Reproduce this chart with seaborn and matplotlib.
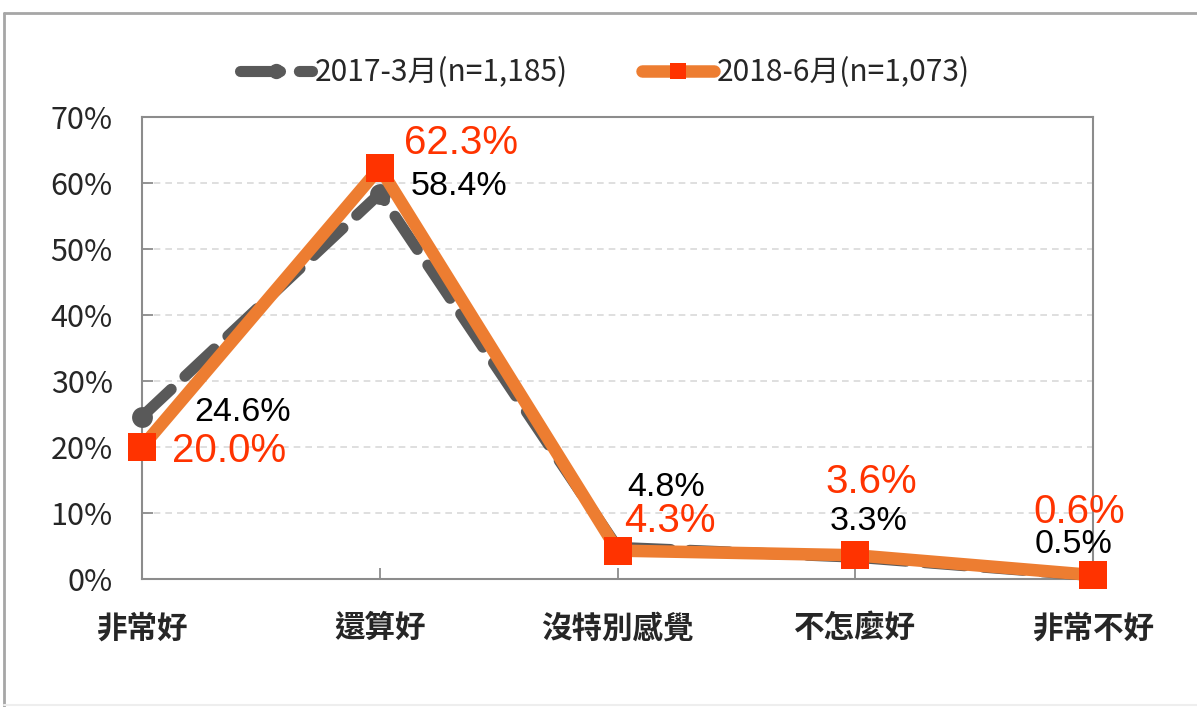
import matplotlib
matplotlib.use("Agg")
import matplotlib.pyplot as plt
import seaborn as sns
import pandas as pd
from matplotlib.lines import Line2D

categories = ["非常好", "還算好", "沒特別感覺", "不怎麼好", "非常不好"]
series_2017 = [24.6, 58.4, 4.8, 3.3, 0.5]
series_2018 = [20.0, 62.3, 4.3, 3.6, 0.6]
label_2017 = "2017-3月(n=1,185)"
label_2018 = "2018-6月(n=1,073)"
yticks = [0, 10, 20, 30, 40, 50, 60, 70]

sns.set_theme(style="white")
plt.rcParams["font.family"] = ["Noto Sans CJK TC", "DejaVu Sans"]

GRAY = "#595959"
ORANGE = "#ED7D31"
RED = "#FF3300"

fig = plt.figure(figsize=(11.97, 7.07), dpi=100)
ax = fig.add_axes([142 / 1197, 1 - 579 / 707, (1093 - 142) / 1197, (579 - 117) / 707])

df17 = pd.DataFrame({"cat": categories, "val": series_2017})
df18 = pd.DataFrame({"cat": categories, "val": series_2018})

sns.lineplot(data=df17, x="cat", y="val", ax=ax, color=GRAY, lw=8,
             marker="o", markersize=15, markeredgewidth=0, label=label_2017,
             sort=False, zorder=3)
ln17 = ax.lines[-1]
ln17.set_dashes((3.6, 1.7))
ln17.set_dash_capstyle("round")
ln17.set_clip_on(False)

sns.lineplot(data=df18, x="cat", y="val", ax=ax, color=ORANGE, lw=9,
             marker="s", markersize=20, markerfacecolor=RED, markeredgewidth=0,
             label=label_2018, sort=False, zorder=4)
ax.lines[-1].set_clip_on(False)

ax.set_xlim(0, 4)
ax.set_ylim(0, 70)
ax.set_yticks(yticks)
ax.set_yticklabels([f"{v}%" for v in yticks], fontsize=22)
ax.set_xticks(range(len(categories)))
ax.set_xticklabels(categories, fontsize=22, fontweight="bold")
ax.set_xlabel("")
ax.set_ylabel("")
ax.tick_params(axis="y", direction="in", length=8, width=1.3, color="#8c8c8c", pad=21, left=True)
ax.tick_params(axis="x", direction="in", length=8, width=1.3, color="#8c8c8c", pad=24, bottom=True)
ax.yaxis.grid(True, linestyle=(0, (4, 3)), color="#d9d9d9", lw=1.2)
ax.xaxis.grid(False)
for s in ax.spines.values():
    s.set_visible(True)
    s.set_color("#8c8c8c")
    s.set_linewidth(1.5)

# data labels: offsets (pixels) of label centre from each point
off17 = [(101, 4), (79, 7), (49, 60), (13, 36), (-19, 31)]
off18 = [(87, -4), (81, 25), (52, 30), (16, 73), (-14, 63)]
for i, v in enumerate(series_2017):
    ax.annotate(f"{v:.1f}%", (i, v), xytext=off17[i], textcoords="offset pixels",
                fontsize=24.5, color="black", ha="center", va="center",
                family=["Liberation Sans", "DejaVu Sans"], zorder=6)
for i, v in enumerate(series_2018):
    ax.annotate(f"{v:.1f}%", (i, v), xytext=off18[i], textcoords="offset pixels",
                fontsize=29, color=RED, ha="center", va="center",
                family=["Liberation Sans", "DejaVu Sans"], zorder=6)

leg = ax.legend(loc="center", bbox_to_anchor=(605 / 1197, 1 - 73 / 707),
                bbox_transform=fig.transFigure, ncol=2, frameon=False,
                fontsize=21.5, handlelength=2.4, columnspacing=2.5, handletextpad=0.1)
for h in leg.legend_handles:
    h.set_dash_capstyle("round")
    h.set_markersize(11)

# figure frame
fig.add_artist(Line2D([4 / 1197, 1], [1 - 13 / 707, 1 - 13 / 707], transform=fig.transFigure,
                      color="#a6a6a6", lw=2))
fig.add_artist(Line2D([4 / 1197, 4 / 1197], [1 - 13 / 707, 0], transform=fig.transFigure,
                      color="#a6a6a6", lw=2))
fig.add_artist(Line2D([4 / 1197, 1], [1 - 705 / 707, 1 - 705 / 707], transform=fig.transFigure,
                      color="#eeeeee", lw=1.5))

fig.savefig("out.png", dpi=100)
